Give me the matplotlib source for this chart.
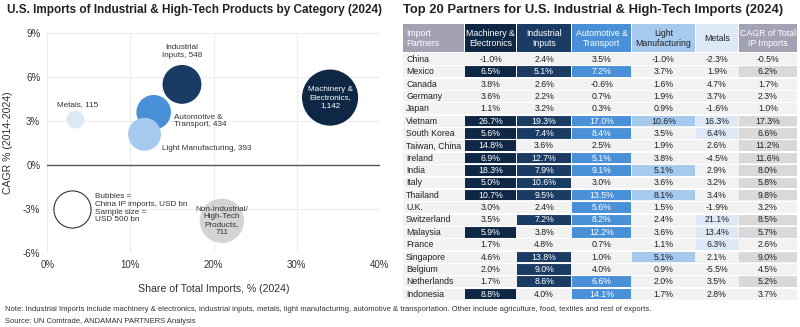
import matplotlib
matplotlib.use("Agg")
import matplotlib.pyplot as plt
from matplotlib.patches import Rectangle
from matplotlib.ticker import FuncFormatter

plt.rcParams['font.family'] = ['Liberation Sans', 'DejaVu Sans']

# ---- Bubble chart data ----
categories = ["Machinery &\nElectronics,\n1,142", "Industrial\nInputs, 548", "Automotive &\nTransport, 434",
              "Light Manufacturing, 393", "Metals, 115", "Non-Industrial/\nHigh-Tech\nProducts,\n711"]
share = [34.0, 16.2, 12.8, 11.7, 3.4, 21.0]
cagr = [4.6, 5.5, 3.6, 2.1, 3.1, -3.8]
china_ip = [1142, 548, 434, 393, 115, 711]
bubble_colors = ["#0e2744", "#1a3b63", "#4a90d9", "#a6c9ee", "#dce8f6", "#d4d4d4"]
sample_size = 500

# ---- Table data ----
partners = ["China", "Mexico", "Canada", "Germany", "Japan", "Vietnam", "South Korea", "Taiwan, China",
            "Ireland", "India", "Italy", "Thailand", "U.K.", "Switzerland", "Malaysia", "France",
            "Singapore", "Belgium", "Netherlands", "Indonesia"]
machinery = [-1.0, 6.5, 3.8, 3.6, 1.1, 26.7, 5.6, 14.8, 6.9, 18.3, 5.0, 10.7, 3.0, 3.5, 5.9, 1.7, 4.6, 2.0, 1.7, 8.8]
industrial = [2.4, 5.1, 2.6, 2.2, 3.2, 19.3, 7.4, 3.6, 12.7, 7.9, 10.6, 9.5, 2.4, 7.2, 3.8, 4.8, 13.8, 9.0, 8.6, 4.0]
automotive = [3.5, 7.2, -0.6, 0.7, 0.3, 17.0, 8.4, 2.5, 5.1, 9.1, 3.0, 13.5, 5.6, 8.2, 12.2, 0.7, 1.0, 4.0, 6.6, 14.1]
light_mfg = [-1.0, 3.7, 1.6, 1.9, 0.9, 10.6, 3.5, 1.9, 3.8, 5.1, 3.6, 8.1, 1.5, 2.4, 3.6, 1.1, 5.1, 0.9, 2.0, 1.7]
metals = [-2.3, 1.9, 4.7, 3.7, -1.6, 16.3, 6.4, 2.6, -4.5, 2.9, 3.2, 3.4, -1.9, 21.1, 13.4, 6.3, 2.1, -5.5, 3.5, 2.8]
total_cagr = [-0.5, 6.2, 1.7, 2.3, 1.0, 17.3, 6.6, 11.2, 11.6, 8.0, 5.8, 9.8, 3.2, 8.5, 5.7, 2.6, 9.0, 4.5, 5.2, 3.7]
headers = ["Import\nPartners", "Machinery &\nElectronics", "Industrial\nInputs", "Automotive &\nTransport",
           "Light\nManufacturing", "Metals", "CAGR of Total\nIP Imports"]
highlight_threshold = 5.0

fig = plt.figure(figsize=(8.0, 3.27), dpi=100)
fig.patch.set_facecolor("white")

# ================= Left: bubble chart =================
ax = fig.add_axes([0.059, 0.226, 0.416, 0.673])
SCALE = 1.43  # points^2 per USD bn
ax.scatter(share, cagr, s=[v * SCALE for v in china_ip], c=bubble_colors, zorder=3, linewidths=0)
# sample-size reference bubble
ax.scatter([3.0], [-3.0], s=[sample_size * SCALE], facecolors="white", edgecolors="#333333",
           linewidths=0.8, zorder=3)

ax.set_xlim(0, 40)
ax.set_ylim(-6, 9)
ax.set_xticks([0, 10, 20, 30, 40])
ax.set_yticks([-6, -3, 0, 3, 6, 9])
ax.xaxis.set_major_formatter(FuncFormatter(lambda v, p: f"{v:.0f}%"))
ax.yaxis.set_major_formatter(FuncFormatter(lambda v, p: f"{v:.0f}%"))
ax.grid(True, color="#ececec", linewidth=0.7, zorder=0)
ax.axhline(0, color="#555555", linewidth=1.0, zorder=2)
for s in ax.spines.values():
    s.set_visible(False)
ax.tick_params(length=0, labelsize=7, colors="#333333", pad=5)
ax.set_xlabel("Share of Total Imports, % (2024)", fontsize=7.6, color="#333333", labelpad=10)
ax.set_ylabel("CAGR % (2014-2024)", fontsize=7.6, color="#333333", labelpad=7)

lab_kw = dict(fontsize=5.9, color="#333333", linespacing=1.15, zorder=4)
ax.text(share[0], cagr[0], categories[0], ha="center", va="center", fontsize=5.9, color="white",
        linespacing=1.15, zorder=4)
ax.text(share[1], 7.75, categories[1], ha="center", va="center", **lab_kw)
ax.text(15.2, 3.0, categories[2], ha="left", va="center", **lab_kw)
ax.text(13.8, 1.15, categories[3], ha="left", va="center", **lab_kw)
ax.text(share[4] + 0.3, 4.15, categories[4], ha="center", va="center", **lab_kw)
ax.text(share[5], cagr[5], categories[5], ha="center", va="center", **lab_kw)
ax.text(5.7, -2.95, "Bubbles =\nChina IP imports, USD bn\nSample size =\nUSD 500 bn",
        ha="left", va="center", **lab_kw)

fig.text(0.009, 0.968, "U.S. Imports of Industrial & High-Tech Products by Category (2024)",
         fontsize=8.5, fontweight="bold", color="#222222", ha="left", va="center")

# ================= Right: table =================
fig.text(0.504, 0.968, "Top 20 Partners for U.S. Industrial & High-Tech Imports (2024)",
         fontsize=9.4, fontweight="bold", color="#222222", ha="left", va="center")

col_widths = [61, 52, 54, 60, 63, 43, 58]
header_h = 2.35
n = len(partners)
tax = fig.add_axes([403 / 800, 1 - 300 / 327, 394 / 800, 276 / 327])
tax.set_xlim(0, sum(col_widths))
tax.set_ylim(header_h + n, 0)
tax.axis("off")

header_colors = ["#a3a2b5", "#0e2744", "#1a3b63", "#4a90d9", "#a6c9ee", "#dce8f6", "#a3a2b5"]
header_text = ["white", "white", "white", "white", "#222222", "#222222", "white"]
cell_hi = ["#0e2744", "#1a3b63", "#4a90d9", "#a6c9ee", "#dce8f6", "#d9d9d9"]
cell_hi_text = ["white", "white", "white", "#222222", "#222222", "#222222"]
columns = [machinery, industrial, automotive, light_mfg, metals, total_cagr]

gap_x = 0.9
gap_y = 0.06
fs_tab = 6.3
x0s = [sum(col_widths[:i]) for i in range(len(col_widths))]

for i, (hx, w) in enumerate(zip(x0s, col_widths)):
    tax.add_patch(Rectangle((hx + gap_x / 2, 0), w - gap_x, header_h - gap_y,
                            facecolor=header_colors[i], edgecolor="none"))
    tax.text(hx + (w / 2 if i > 0 else 3), header_h / 2, headers[i],
             ha="center" if i > 0 else "left", va="center", fontsize=fs_tab,
             color=header_text[i], linespacing=1.2)

for r, name in enumerate(partners):
    y = header_h + r
    tax.add_patch(Rectangle((0, y + gap_y / 2), sum(col_widths), 1 - gap_y,
                            facecolor="#f2f2f2", edgecolor="none"))
    tax.text(3, y + 0.52, name, ha="left", va="center", fontsize=fs_tab, color="#222222")
    for c, vals in enumerate(columns):
        hx = x0s[c + 1]
        w = col_widths[c + 1]
        v = vals[r]
        tc = "#222222"
        if v >= highlight_threshold:
            tax.add_patch(Rectangle((hx + gap_x / 2, y + gap_y / 2 + 0.03), w - gap_x, 1 - gap_y - 0.06,
                                    facecolor=cell_hi[c], edgecolor="none"))
            tc = cell_hi_text[c]
        tax.text(hx + w / 2, y + 0.52, f"{v:.1f}%", ha="center", va="center", fontsize=fs_tab, color=tc)
    tax.plot([0, sum(col_widths)], [y + 1, y + 1], color="white", linewidth=0.8)

# ================= Footer =================
fig.text(0.006, 0.052, "Note: Industrial Imports include machinery & electronics, industrial inputs, metals, "
         "light manufacturing, automotive & transportation. Other include agriculture, food, textiles and "
         "rest of exports.", fontsize=5.5, color="#333333", ha="left", va="center")
fig.text(0.006, 0.018, "Source: UN Comtrade, ANDAMAN PARTNERS Analysis", fontsize=5.5, color="#333333",
         ha="left", va="center")

fig.savefig("out.png", dpi=100, facecolor="white")
